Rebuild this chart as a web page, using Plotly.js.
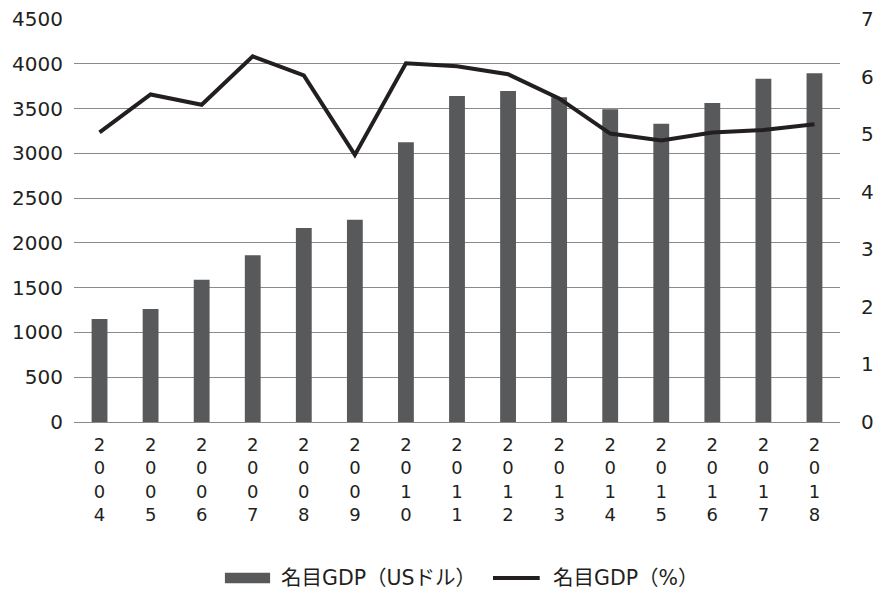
<!DOCTYPE html>
<html>
<head>
<meta charset="utf-8">
<script src="https://cdn.plot.ly/plotly-3.0.1.min.js"></script>
<style>
  html, body { margin: 0; padding: 0; background: #fff; }
  #chart { width: 876px; height: 593px; }
</style>
</head>
<body>
<div id="chart"></div>
<script>
// 名目GDP: US dollar amount (bars, left axis) and % (line, right axis)
const years = ['2004','2005','2006','2007','2008','2009','2010','2011','2012','2013','2014','2015','2016','2017','2018'];
const gdpUsd = [1150, 1262, 1589, 1861, 2166, 2259, 3123, 3640, 3696, 3625, 3491, 3331, 3562, 3834, 3893];
const gdpPct = [5.03, 5.69, 5.51, 6.35, 6.02, 4.64, 6.23, 6.18, 6.04, 5.62, 5.01, 4.89, 5.03, 5.07, 5.17];
const usdTicks = [0, 500, 1000, 1500, 2000, 2500, 3000, 3500, 4000, 4500];
const pctTicks = [0, 1, 2, 3, 4, 5, 6, 7];
const seriesNames = ['名目GDP（USドル）', '名目GDP（%）'];

// each year label is stacked one character per line
const yearLabels = years.map(y => y.split('').join('<br>'));

const barColor = '#58595b';
const lineColor = '#231f20';
const gridColor = '#8a8a8a';
const textColor = '#231f20';
const fontFamily = 'DejaVu Sans, Verdana, Noto Sans CJK JP, sans-serif';

const traces = [
  {
    type: 'bar',
    name: seriesNames[0],
    x: years,
    y: gdpUsd,
    marker: { color: barColor },
    yaxis: 'y',
    hoverinfo: 'x+y'
  },
  {
    type: 'scatter',
    mode: 'lines',
    name: seriesNames[1],
    x: years,
    y: gdpPct,
    line: { color: lineColor, width: 4 },
    yaxis: 'y2',
    hoverinfo: 'x+y'
  }
];

// hand-built legend below the plot (wide bar swatch + line swatch)
const legendY = -0.387;
const shapes = [
  { type: 'rect', xref: 'paper', yref: 'paper', x0: 0.197, x1: 0.256, y0: -0.400, y1: -0.374,
    fillcolor: barColor, line: { width: 0 } },
  { type: 'line', xref: 'paper', yref: 'paper', x0: 0.547, x1: 0.608, y0: legendY, y1: legendY,
    line: { color: lineColor, width: 4 } }
];
const annotations = [
  { xref: 'paper', yref: 'paper', x: 0.268, y: legendY, xanchor: 'left', yanchor: 'middle',
    text: seriesNames[0], showarrow: false, font: { size: 20.5, color: textColor, family: fontFamily } },
  { xref: 'paper', yref: 'paper', x: 0.623, y: legendY, xanchor: 'left', yanchor: 'middle',
    text: seriesNames[1], showarrow: false, font: { size: 20.5, color: textColor, family: fontFamily } }
];

const layout = {
  width: 876,
  height: 593,
  margin: { l: 74, r: 36, t: 19, b: 171, pad: 0 },
  paper_bgcolor: '#ffffff',
  plot_bgcolor: '#ffffff',
  font: { family: fontFamily, color: textColor, size: 20 },
  showlegend: false,
  bargap: 0.69,
  xaxis: {
    type: 'category',
    tickmode: 'array',
    tickvals: years,
    ticktext: yearLabels,
    tickangle: 0,
    showgrid: false,
    showline: false,
    ticks: '',
    zeroline: false,
    tickfont: { size: 18, color: textColor, family: fontFamily },
    ticklabelstandoff: 10
  },
  yaxis: {
    range: [0, 4500],
    tickmode: 'array',
    tickvals: usdTicks,
    ticktext: usdTicks.map(String),
    showgrid: true,
    gridcolor: gridColor,
    gridwidth: 1,
    zeroline: true,
    zerolinecolor: gridColor,
    zerolinewidth: 1,
    showline: false,
    ticks: '',
    tickfont: { size: 20, color: textColor, family: fontFamily },
    ticklabelstandoff: 10
  },
  yaxis2: {
    range: [0, 7],
    overlaying: 'y',
    side: 'right',
    tickmode: 'array',
    tickvals: pctTicks,
    ticktext: pctTicks.map(String),
    showgrid: false,
    zeroline: false,
    showline: false,
    ticks: '',
    tickfont: { size: 20, color: textColor, family: fontFamily },
    ticklabelstandoff: 20
  },
  shapes: shapes,
  annotations: annotations
};

Plotly.newPlot('chart', traces, layout, { displayModeBar: false, staticPlot: true });
</script>
</body>
</html>
